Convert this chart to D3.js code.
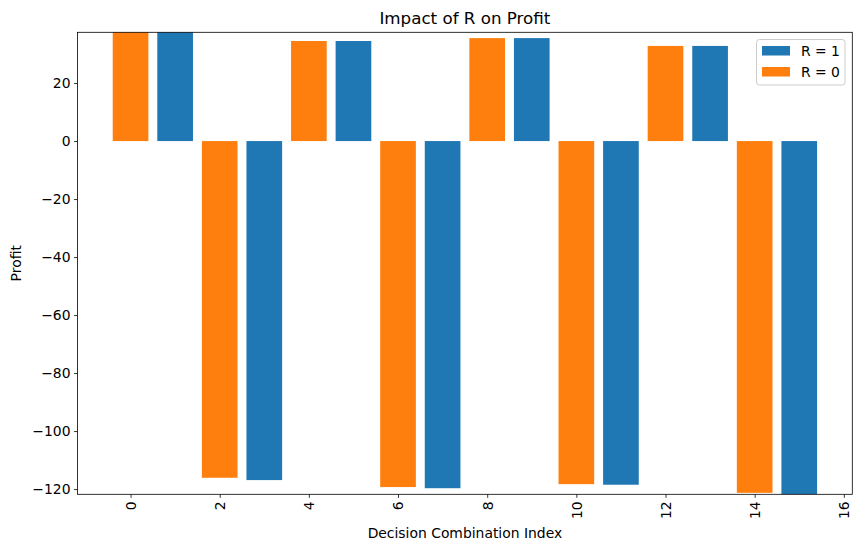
<!DOCTYPE html>
<html>
<head>
<meta charset="utf-8">
<script src="https://cdn.jsdelivr.net/npm/d3@7"></script>
<style>
  body { margin: 0; background: #fff; }
  text { font-family: "DejaVu Sans", sans-serif; fill: #000; }
</style>
</head>
<body>
<svg id="chart" width="862" height="551"></svg>
<script>
// Bar values
const indices = d3.range(16);
const profits = [38, 38, -116.1, -116.9, 34.5, 34.5, -119.3, -119.7, 35.5, 35.5, -118.3, -118.5, 32.8, 32.8, -121.3, -122];
const rValues = [0, 1, 0, 1, 0, 1, 0, 1, 0, 1, 0, 1, 0, 1, 0, 1];
const xTicks = [0, 2, 4, 6, 8, 10, 12, 14, 16];
const yTicks = [20, 0, -20, -40, -60, -80, -100, -120];
const legendItems = [{ label: "R = 1", r: 1 }, { label: "R = 0", r: 0 }];

const colors = { 1: "#1f77b4", 0: "#ff7f0e" };

const svg = d3.select("#chart");
const plotLeft = 77.5, plotTop = 32.3, plotRight = 852.3, plotBottom = 494.3;

const x = d3.scaleLinear().domain([-1.19, 16.19]).range([plotLeft, plotRight]);
const y = d3.scaleLinear().domain([-121.8, 37.5]).range([plotBottom, plotTop]);

svg.append("defs").append("clipPath").attr("id", "plot-clip")
  .append("rect")
  .attr("x", plotLeft).attr("y", plotTop)
  .attr("width", plotRight - plotLeft).attr("height", plotBottom - plotTop);

// Bars
svg.append("g")
  .attr("clip-path", "url(#plot-clip)")
  .selectAll("rect")
  .data(indices)
  .enter()
  .append("rect")
  .attr("x", (i) => x(i - 0.4))
  .attr("width", (i) => x(i + 0.4) - x(i - 0.4))
  .attr("y", (i) => y(Math.max(0, profits[i])))
  .attr("height", (i) => Math.abs(y(profits[i]) - y(0)))
  .style("fill", (i) => colors[rValues[i]]);

// Axes
const xAxis = svg.append("g")
  .attr("transform", `translate(0,${plotBottom})`)
  .call(d3.axisBottom(x).tickValues(xTicks).tickSize(3.5).tickPadding(3.5));
xAxis.selectAll("text")
  .style("font-size", "13.9px")
  .attr("transform", "rotate(-90)")
  .attr("text-anchor", "end")
  .attr("x", -7)
  .attr("y", 0)
  .attr("dy", "0.35em");

const yAxis = svg.append("g")
  .attr("transform", `translate(${plotLeft},0)`)
  .call(d3.axisLeft(y).tickValues(yTicks).tickSize(3.5).tickPadding(3.5)
    .tickFormat((d) => (d < 0 ? "\u2212" + Math.abs(d) : d)));
yAxis.selectAll("text").style("font-size", "13.9px");

svg.selectAll(".domain").remove();
svg.selectAll(".tick line").style("stroke", "#000").style("stroke-width", 0.8);

// Frame
svg.append("rect")
  .attr("x", plotLeft).attr("y", plotTop)
  .attr("width", plotRight - plotLeft).attr("height", plotBottom - plotTop)
  .style("fill", "none")
  .style("stroke", "#000")
  .style("stroke-width", 0.8);

// Titles
svg.append("text")
  .attr("x", (plotLeft + plotRight) / 2)
  .attr("y", 24)
  .attr("text-anchor", "middle")
  .style("font-size", "16.7px")
  .text("Impact of R on Profit");

svg.append("text")
  .attr("x", (plotLeft + plotRight) / 2)
  .attr("y", 538)
  .attr("text-anchor", "middle")
  .style("font-size", "13.9px")
  .text("Decision Combination Index");

svg.append("text")
  .attr("transform", `translate(21,${(plotTop + plotBottom) / 2}) rotate(-90)`)
  .attr("text-anchor", "middle")
  .style("font-size", "13.9px")
  .text("Profit");

// Legend
const legend = svg.append("g");
legend.append("rect")
  .attr("x", 756.5).attr("y", 39.5)
  .attr("width", 88.5).attr("height", 45.5)
  .attr("rx", 3)
  .style("fill", "rgba(255,255,255,0.8)")
  .style("stroke", "#ccc")
  .style("stroke-width", 1);

const entry = legend.selectAll(".entry")
  .data(legendItems)
  .enter()
  .append("g")
  .attr("class", "entry")
  .attr("transform", (d, i) => `translate(0,${i * 21})`);

entry.append("rect")
  .attr("x", 762).attr("y", 46)
  .attr("width", 28).attr("height", 9.5)
  .style("fill", (d) => colors[d.r]);

entry.append("text")
  .attr("x", 801).attr("y", 51)
  .attr("dy", "0.35em")
  .style("font-size", "13.9px")
  .text((d) => d.label);
</script>
</body>
</html>
